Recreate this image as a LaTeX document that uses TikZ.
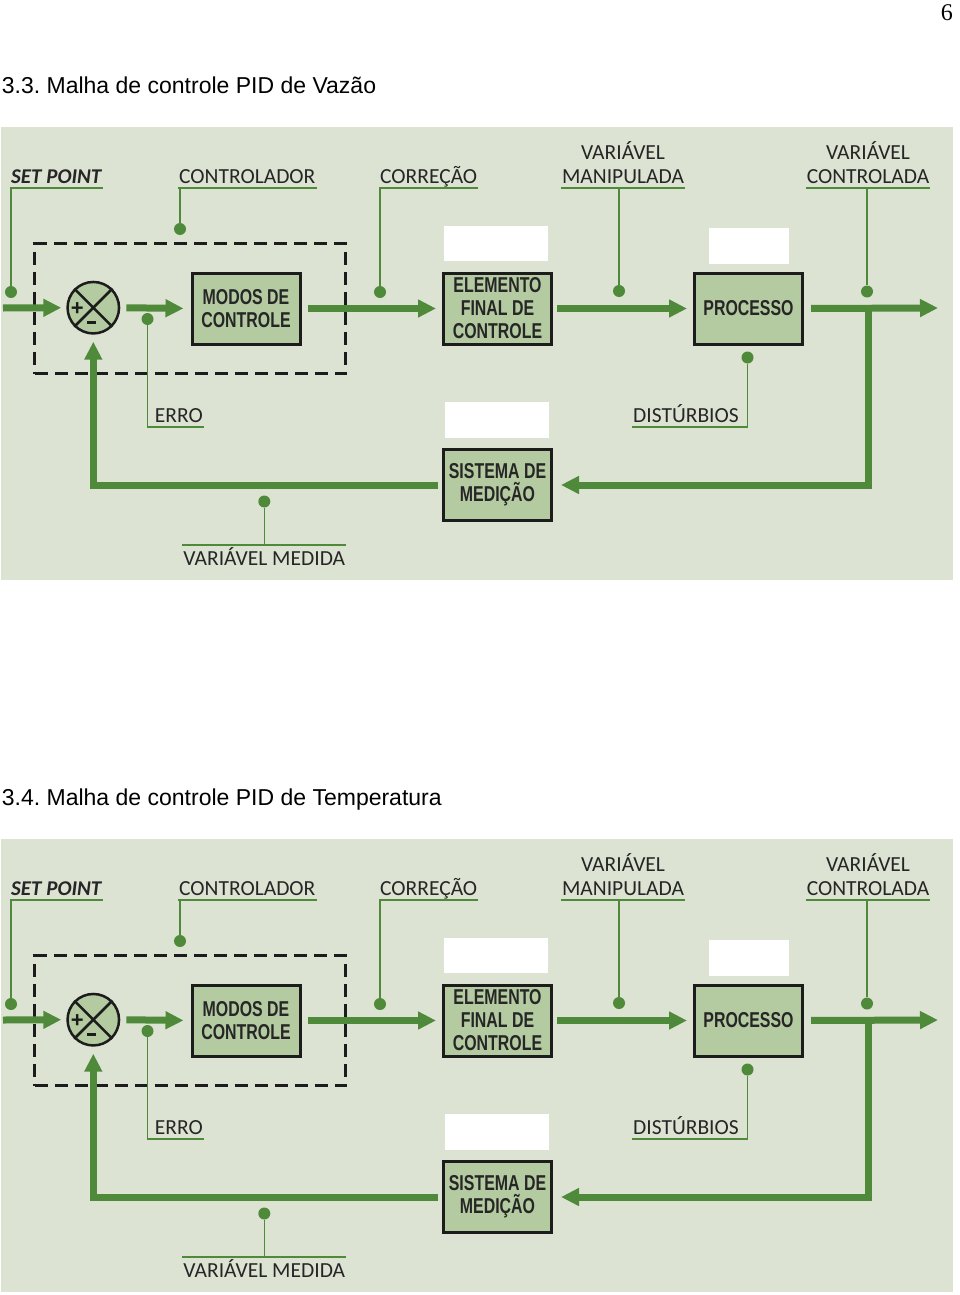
\documentclass[tikz,border=0pt]{standalone}
\usepackage{fontspec}
\setmainfont{Liberation Sans}
\newfontfamily\lblfont{Carlito}
\newfontfamily\boxfont[FakeStretch=0.74]{Liberation Sans Bold}
\newfontfamily\pagefont{Liberation Serif}
\usetikzlibrary{arrows.meta}
\definecolor{panel}{HTML}{DCE3D2}
\definecolor{boxfill}{HTML}{B4CAA0}
\definecolor{flow}{HTML}{4F8A3A}
\definecolor{ink}{HTML}{262626}
\definecolor{boxline}{HTML}{1C1C1C}
\tikzset{dot/.style={fill=flow,circle,inner sep=0pt,minimum size=12pt}}
\tikzset{blk/.style={draw=boxline,line width=3pt,fill=boxfill,minimum width=108pt,minimum height=71pt,inner sep=0pt,align=center,text=ink,font=\boxfont\fontsize{21.5}{23}\selectfont}}
\tikzset{sumjn/.style={circle,draw=boxline,line width=2.5pt,fill=boxfill,minimum size=51.5pt,inner sep=0pt}}
\tikzset{sign/.style={font=\bfseries\fontsize{22}{22}\selectfont,inner sep=0pt,text=boxline}}
\tikzset{ctrlbox/.style={draw=boxline,line width=3pt,dash pattern=on 13pt off 7pt,minimum width=311pt,minimum height=130pt,inner sep=0pt}}
\tikzset{flw/.style={-{Triangle[length=18pt,width=17pt]},flow,line width=7pt}}
\tikzset{lead/.style={flow,line width=1.5pt}}
\tikzset{tag/.style={text=ink,font=\lblfont\fontsize{21.5}{24}\selectfont,inner xsep=1pt,inner ysep=4.5pt,text depth=0pt,align=center}}

\begin{document}
\frenchspacing
\begin{tikzpicture}[x=1pt,y=-1pt]
    \useasboundingbox (0,0) rectangle (960,1295);
    \node[font=\pagefont\fontsize{24}{28}\selectfont,anchor=base east,inner sep=0pt] (pg) at (953,21) {6};
    \foreach \dy/\tit/\k in {0/{3.3. Malha de controle PID de Vazão}/a,712/{3.4. Malha de controle PID de Temperatura}/b}{
    \begin{scope}[shift={(0,\dy)}]
        \node[anchor=base west,inner sep=0pt,font=\fontsize{23}{26}\selectfont] (tit-\k) at (1.7,93.3) {\tit};
        \fill[panel] (1,127) rectangle (953,580);
        \fill[white] (444,226) rectangle (548,261);
        \fill[white] (709,228) rectangle (789,264);
        \fill[white] (445,402) rectangle (549,438);
        \node[ctrlbox] (ctrl-\k) at (190,308.5) {};
        \node[sumjn] (sum-\k) at (93.3,307.7) {};
        \draw[boxline,line width=2.5pt] (sum-\k.north west) -- (sum-\k.south east) (sum-\k.north east) -- (sum-\k.south west);
        \node[sign] (pl-\k) at ([shift={(-16,1.6)}]sum-\k.center) {+};
        \node[sign] (mi-\k) at ([shift={(-1.6,15)}]sum-\k.center) {\rule{9pt}{3.5pt}};
        \node[blk] (modos-\k) at (246,308.5) {MODOS DE\\CONTROLE};
        \node[blk] (elem-\k) at (497.5,308.5) {ELEMENTO\\FINAL DE\\CONTROLE};
        \node[blk] (proc-\k) at (748.5,308.5) {PROCESSO};
        \node[blk] (med-\k) at (497.5,485) {SISTEMA DE\\MEDIÇÃO};
        \coordinate (in-\k) at (3,308);
        \coordinate (out-\k) at (938,308);
        \coordinate (tap-\k) at (868,308);
        \draw[flw,shorten >=5pt] (in-\k) -- (sum-\k.west);
        \draw[flw,shorten <=6pt,shorten >=7pt] (sum-\k.east) -- (modos-\k.west);
        \draw[flw,shorten <=6pt,shorten >=6pt] (modos-\k.east) -- (elem-\k.west);
        \draw[flw,shorten <=4pt,shorten >=6pt] (elem-\k.east) -- (proc-\k.west);
        \draw[flw,shorten <=7pt] (proc-\k.east) -- (out-\k);
        \draw[flw,shorten >=8pt] (tap-\k) |- (med-\k.east);
        \draw[flw,shorten <=4pt,shorten >=7pt] (med-\k.west) -| (sum-\k.south);
        \node[dot] (spd-\k) at (11,292) {};
        \node[dot] (ctd-\k) at (180,229) {};
        \node[dot] (crd-\k) at (380,292) {};
        \node[dot] (mvd-\k) at (619,291) {};
        \node[dot] (cvd-\k) at (867,291.5) {};
        \node[dot] (erd-\k) at (147.5,319) {};
        \node[dot] (dsd-\k) at (747.5,357.5) {};
        \node[dot] (vmd-\k) at (264.3,501.5) {};
        \node[tag,anchor=south west,font=\lblfont\bfseries\itshape\fontsize{21}{24}\selectfont] (sp-\k) at (10,188) {SET POINT};
        \node[tag,anchor=south west] (ct-\k) at (178,188) {CONTROLADOR};
        \node[tag,anchor=south west] (cr-\k) at (379,188) {CORREÇÃO};
        \node[tag,anchor=south] (mv-\k) at (623,188) {VARIÁVEL\\MANIPULADA};
        \node[tag,anchor=south] (cv-\k) at (868,188) {VARIÁVEL\\CONTROLADA};
        \node[tag,anchor=south east] (er-\k) at (204,427) {ERRO};
        \node[tag,anchor=south west] (ds-\k) at (632,427) {DISTÚRBIOS};
        \node[tag,anchor=north,text height=16pt] (vm-\k) at (264.3,545) {VARIÁVEL MEDIDA};
        \draw[lead] (spd-\k) |- (sp-\k.south east);
        \draw[lead] (ct-\k.south west) -- (ct-\k.south east) (ctd-\k) -- (ctd-\k |- ct-\k.south);
        \draw[lead] (cr-\k.south west) -- (cr-\k.south east) (crd-\k) -- (crd-\k |- cr-\k.south);
        \draw[lead] (mv-\k.south west) -- (mv-\k.south east) (mvd-\k) -- (mvd-\k |- mv-\k.south);
        \draw[lead] (cv-\k.south west) -- (cv-\k.south east) (cvd-\k) -- (cvd-\k |- cv-\k.south);
        \draw[lead] (erd-\k) |- (er-\k.south east);
        \draw[lead] (dsd-\k) |- (ds-\k.south west);
        \draw[lead] (vm-\k.north west) -- (vm-\k.north east) (vmd-\k) -- (vmd-\k |- vm-\k.north);
    \end{scope}}
\end{tikzpicture}
\end{document}
